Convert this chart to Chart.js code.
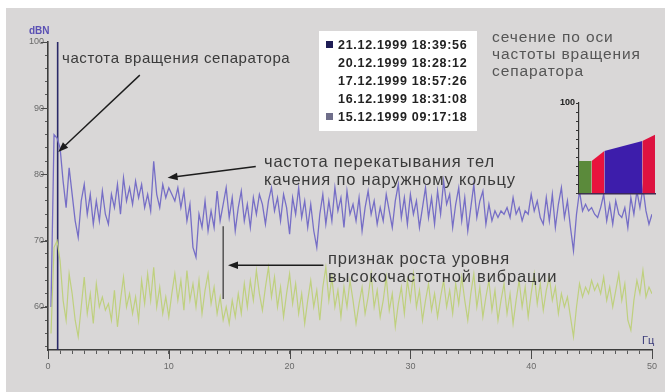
<!DOCTYPE html>
<html><head><meta charset="utf-8">
<script src="https://cdn.jsdelivr.net/npm/chart.js@4/dist/chart.umd.min.js"></script>
<style>
html,body{margin:0;padding:0;background:#fff;}
#wrap{position:relative;width:665px;height:392px;overflow:hidden;background:#fff;}
#panel{position:absolute;left:6px;top:8px;right:0;bottom:0;background:#d9d7d7;}
#main{position:absolute;left:0;top:0;}
#inset{position:absolute;left:540px;top:95px;}
.t{position:absolute;font-family:"Liberation Sans",Arial,sans-serif;white-space:nowrap;line-height:18px;}
.ann{font-size:15px;color:#3a3a3a;letter-spacing:0.6px;}
.ann2{font-size:16.5px;color:#3a3a3a;letter-spacing:0.8px;}
.sec{font-size:15.5px;color:#555;letter-spacing:0.9px;}
#legend{position:absolute;left:319px;top:31px;width:158px;height:100px;background:#fff;}
.li{position:absolute;left:19px;font-family:"Liberation Sans",Arial,sans-serif;font-weight:bold;font-size:12.5px;color:#222;letter-spacing:0.7px;white-space:nowrap;line-height:14px;}
.sq{position:absolute;left:-12px;top:3px;width:7px;height:7px;}
</style></head>
<body>
<div id="wrap">
  <div id="panel"></div>
  <canvas id="main" width="665" height="392" style="width:665px;height:392px"></canvas>
  <canvas id="inset" width="120" height="105" style="width:120px;height:105px"></canvas>
  <div class="t" style="left:29px;top:22px;font-size:10px;font-weight:bold;color:#5a50b4;">dBN</div>
  <div class="t" style="left:642px;top:331px;font-size:11px;color:#3b3b7a;">Гц</div>
  <div class="t ann" style="left:62px;top:49px;">частота вращения сепаратора</div>
  <div class="t ann2" style="left:264px;top:152px;">частота перекатывания тел</div>
  <div class="t ann2" style="left:264px;top:170px;">качения по наружному кольцу</div>
  <div class="t ann2" style="left:328px;top:249px;">признак роста уровня</div>
  <div class="t ann2" style="left:328px;top:267px;">высокочастотной вибрации</div>
  <div class="t sec" style="left:492px;top:28px;">сечение по оси</div>
  <div class="t sec" style="left:492px;top:45px;">частоты вращения</div>
  <div class="t sec" style="left:492px;top:62px;">сепаратора</div>
  <div id="legend"></div>
</div>
<script>
// ---- data ----
const FREQ_STEP = 0.25; // Hz between spectrum lines (0.25 .. 50 Hz)
const SPECTRUM_21_12 = [
  60,86,
  85.5,84,79,75,81,77,73,70.5,76,78.5,
  74,77,72.5,76,73,77.5,74,72.5,77,75,
  78.5,74,79.5,76,78,75.5,79,76.5,78.5,75,
  77,74.5,82,77,75,78.5,76.5,78,77,76,
  78,75,77.5,73,75.5,69,67.5,74,72,76,
  71.5,74.5,72,77.5,73,75.5,78,73.5,76.5,71.5,
  75,77.5,73,75.5,72,76.5,74,77,75.5,72.5,
  76,78,74.5,76.5,73,77,75,71,76.5,74,
  78,73.5,76,72,75.5,71.5,69,74,77,72.5,
  76,73,78,74.5,76.5,72,77.5,74,75.5,73,
  76.5,71.5,75,77.5,74,76,72.5,75,73,77,
  74.5,72,76,78.5,73.5,76.5,72.5,77,74,76,
  72,75,78,73.5,76.5,72.5,77.5,74,79,75.5,
  77,72,75.5,78,73,76.5,71.5,75,78.5,73.5,
  76,77.5,72.5,75.5,73,74.5,73.5,74.5,74,75,
  73.5,76.5,74,75,73,74.5,74,77,74.5,76,
  73.5,72.5,76.5,73,77,72,75.5,78,73.5,76,
  72,68.5,74,77.5,74.5,75.5,74.5,75,74,73.5,
  75,77,73,75.5,72.5,76,74,73.5,75,72,
  76.5,74,77.5,75,78,74.5,72.5,74
];
const SPECTRUM_15_12 = [
  56,69,
  70,67,61,58,65,62,58,55.5,60,64.5,
  59,62,57.5,63.5,60,61.5,59.5,60.5,58,62.5,
  57,61,64.5,60,62,59,61.5,58,64,60.5,
  65,61,66,60,63,59,61.5,58.5,62,65,
  61,64,59.5,65.5,61,63.5,60,64,59,62.5,
  65,60.5,63,59,61.5,58,60,57.5,61,58.5,
  62,59,63.5,60,64,61,65.5,62,59.5,63,
  66,61.5,64.5,60,63,58.5,62,65,60.5,63.5,
  59,62,57.5,61,64,60,62.5,58,63,66,
  61,64.5,60,62.5,58.5,63,60,64,61,57.5,
  60.5,63,59,61.5,65,60,62.5,58.5,61,64.5,
  59.5,62,57,60.5,63,59,64,61,65,60,
  62.5,58,61,63.5,59.5,62,58.5,61.5,64,60,
  62.5,59,63.5,60.5,64.5,61,58,62,65,60,
  63,58.5,61.5,64,59.5,62.5,58,61,63.5,59,
  62,57.5,61,64,60,63,58.5,62,65,60.5,
  63.5,59.5,62.5,64.5,61,63,59,62,60,61.5,
  58.5,55.5,60,63.5,61.5,63,62,64,62.5,63.5,
  62,64.5,61,63,60,62.5,65,61,63.5,58,
  56.5,61,64,62,65.5,61.5,63,62
];
const SEPARATOR_HZ = 0.8;
const Y_MIN = 53.5, Y_MAX = 100;
const X_MIN = 0, X_MAX = 50;
const Y_LABELS = [60, 70, 80, 90, 100];
const X_LABELS = [0, 10, 20, 30, 40, 50];
const LEGEND_DATES = ["21.12.1999 18:39:56","20.12.1999 18:28:12","17.12.1999 18:57:26","16.12.1999 18:31:08","15.12.1999 09:17:18"];
const LEGEND_MARK = ["#1e1d55", null, null, null, "#6f6e8a"];
// cross-section at separator frequency: day offsets from 15.12 and levels
const SECTION_DAYS = [0, 1, 2, 5, 6];
const SECTION_LEVELS = [36, 36, 47, 58, 65];
const SECTION_COLORS = ["#5b8a3b", "#e8133d", "#3d1dab", "#dd1240"];

// ---- legend ----
const lg = document.getElementById('legend');
LEGEND_DATES.forEach((d, i) => {
  const el = document.createElement('div');
  el.className = 'li';
  el.style.top = (7 + i * 18) + 'px';
  el.textContent = d;
  if (LEGEND_MARK[i]) {
    const s = document.createElement('span');
    s.className = 'sq'; s.style.background = LEGEND_MARK[i];
    el.appendChild(s);
  }
  lg.appendChild(el);
});

// ---- annotation plugin (arrows anchored in data coords) ----
const ARROWS = [
  {from: [7.6, 95.0], to: [0.85, 83.4]},
  {from: [17.2, 81.2], to: [9.9, 79.5]},
  {from: [22.8, 66.3], to: [14.9, 66.3]}
];
const POINTER_LINE = {x: 14.5, y1: 72.2, y2: 61.2};
const annPlugin = {
  id: 'ann',
  afterDatasetsDraw(chart) {
    const {ctx, scales: {x, y}} = chart;
    ctx.save();
    ctx.beginPath();
    ctx.moveTo(x.getPixelForValue(POINTER_LINE.x), y.getPixelForValue(POINTER_LINE.y1));
    ctx.lineTo(x.getPixelForValue(POINTER_LINE.x), y.getPixelForValue(POINTER_LINE.y2));
    ctx.lineWidth = 1.2; ctx.strokeStyle = '#333'; ctx.stroke();
    ctx.strokeStyle = '#1c1c1c'; ctx.fillStyle = '#1c1c1c'; ctx.lineWidth = 1.4;
    ARROWS.forEach(a => {
      const x1 = x.getPixelForValue(a.from[0]), y1 = y.getPixelForValue(a.from[1]);
      const x2 = x.getPixelForValue(a.to[0]), y2 = y.getPixelForValue(a.to[1]);
      const ang = Math.atan2(y2 - y1, x2 - x1), L = 10, W = 3.8;
      ctx.beginPath(); ctx.moveTo(x1, y1); ctx.lineTo(x2 - Math.cos(ang) * L * 0.8, y2 - Math.sin(ang) * L * 0.8); ctx.stroke();
      ctx.beginPath();
      ctx.moveTo(x2, y2);
      ctx.lineTo(x2 - Math.cos(ang) * L - Math.sin(ang) * W, y2 - Math.sin(ang) * L + Math.cos(ang) * W);
      ctx.lineTo(x2 - Math.cos(ang) * L + Math.sin(ang) * W, y2 - Math.sin(ang) * L - Math.cos(ang) * W);
      ctx.closePath(); ctx.fill();
    });
    ctx.restore();
  },
  afterDraw(chart) {
    const {ctx, scales: {x, y}, chartArea: ca} = chart;
    ctx.save(); ctx.strokeStyle = '#4a4a4a'; ctx.lineWidth = 1;
    X_LABELS.forEach(v => { const px = Math.round(x.getPixelForValue(v)) + 0.5; ctx.beginPath(); ctx.moveTo(px, ca.bottom); ctx.lineTo(px, ca.bottom + 9); ctx.stroke(); });
    Y_LABELS.forEach(v => { const py = Math.round(y.getPixelForValue(v)) + 0.5; ctx.beginPath(); ctx.moveTo(ca.left - 7, py); ctx.lineTo(ca.left, py); ctx.stroke(); });
    ctx.restore();
  }
};

const pts = arr => arr.map((v, i) => ({x: (i + 1) * FREQ_STEP, y: v}));
const tickFont = {family: '"Liberation Sans", Arial, sans-serif', size: 9};

new Chart(document.getElementById('main'), {
  type: 'line',
  data: {datasets: [
    {data: pts(SPECTRUM_15_12), borderColor: '#bfd07e', borderWidth: 1.2, pointRadius: 0, tension: 0},
    {data: pts(SPECTRUM_21_12), borderColor: '#766ec6', borderWidth: 1.3, pointRadius: 0, tension: 0},
    {data: [{x: SEPARATOR_HZ, y: Y_MIN}, {x: SEPARATOR_HZ, y: Y_MAX}], borderColor: '#2a2968', borderWidth: 1.6, pointRadius: 0}
  ]},
  options: {
    responsive: false, animation: false, events: [],
    layout: {padding: {left: 0, top: 42, right: 13, bottom: 0}},
    plugins: {legend: {display: false}, tooltip: {enabled: false}},
    scales: {
      x: {
        type: 'linear', min: X_MIN, max: X_MAX,
        afterFit(s) { s.height = 42; },
        afterBuildTicks(s) { const t = []; for (let v = X_MIN; v <= X_MAX; v++) t.push({value: v}); s.ticks = t; },
        ticks: {autoSkip: false, maxRotation: 0, padding: 7, color: '#6a6a6a', font: tickFont,
          callback: v => X_LABELS.includes(v) ? String(v) : ''},
        grid: {drawOnChartArea: false, drawTicks: true, tickLength: 4, color: '#5a5a5a'},
        border: {color: '#3c3c3c', width: 1.6}
      },
      y: {
        min: Y_MIN, max: Y_MAX,
        afterFit(s) { s.width = 48; },
        afterBuildTicks(s) { const t = []; for (let v = 54; v <= Y_MAX; v += 2) t.push({value: v}); s.ticks = t; },
        ticks: {autoSkip: false, padding: 1, color: '#6a6a6a', font: tickFont,
          callback: v => Y_LABELS.includes(v) ? String(v) : ''},
        grid: {drawOnChartArea: false, drawTicks: true, tickLength: 3, color: '#5a5a5a'},
        border: {color: '#3c3c3c', width: 1.6}
      }
    }
  },
  plugins: [annPlugin]
});

// ---- inset: cross-section along separator frequency ----
const secSets = SECTION_COLORS.map((c, k) => ({
  data: [{x: SECTION_DAYS[k], y: SECTION_LEVELS[k]}, {x: SECTION_DAYS[k + 1], y: SECTION_LEVELS[k + 1]}],
  borderWidth: 0, borderColor: c, backgroundColor: c, fill: 'origin', pointRadius: 0
}));
new Chart(document.getElementById('inset'), {
  type: 'line',
  data: {datasets: secSets},
  options: {
    responsive: false, animation: false, events: [],
    layout: {padding: {left: 0, top: 8, right: 5, bottom: 0}},
    plugins: {legend: {display: false}, tooltip: {enabled: false}},
    scales: {
      x: {type: 'linear', min: SECTION_DAYS[0], max: SECTION_DAYS[SECTION_DAYS.length - 1],
        afterFit(s) { s.height = 5; },
        ticks: {display: false}, grid: {display: false}, border: {color: '#3a2a50', width: 1.5}},
      y: {min: 0, max: 100,
        afterFit(s) { s.width = 39; },
        afterBuildTicks(s) { const t = []; for (let v = 0; v <= 100; v += 10) t.push({value: v}); s.ticks = t; },
        ticks: {autoSkip: false, padding: 1, color: '#222', font: {family: '"Liberation Sans", Arial, sans-serif', size: 9, weight: 'bold'},
          callback: v => v === 100 ? '100' : ''},
        grid: {drawOnChartArea: false, tickLength: 3, color: '#333'},
        border: {color: '#333', width: 1.2}}
    }
  }
});
</script>
</body></html>
